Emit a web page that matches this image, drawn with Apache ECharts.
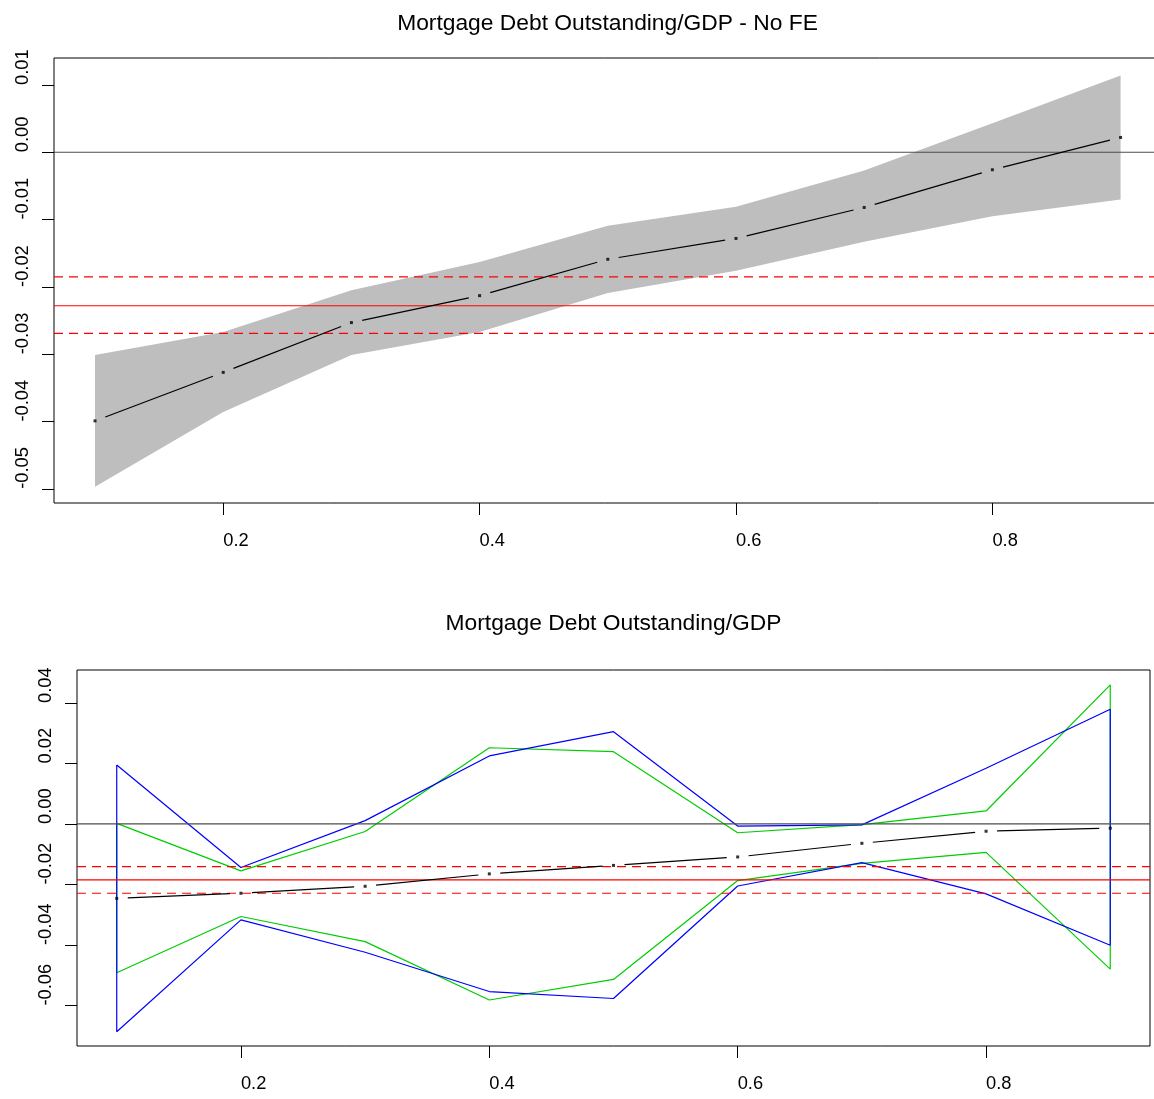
<!DOCTYPE html>
<html><head><meta charset="utf-8">
<script src="https://cdn.jsdelivr.net/npm/echarts@6/dist/echarts.min.js"></script>
<style>html,body{margin:0;padding:0;background:#fff}#c{width:1154px;height:1099px}</style>
</head><body><div id="c"></div>
<script>
// ---- data ----
const xs = [0.1, 0.2, 0.3, 0.4, 0.5, 0.6, 0.7, 0.8, 0.9];
const xTicks = [0.2, 0.4, 0.6, 0.8];

// top panel: "No FE"
const topEst   = [-0.0399, -0.0327, -0.0253, -0.0213, -0.0159, -0.0128, -0.0082, -0.0026, 0.0022];
const topUpper = [-0.0301, -0.0267, -0.0205, -0.0163, -0.0109, -0.0081, -0.0027, 0.0043, 0.0114];
const topLower = [-0.0497, -0.0386, -0.0301, -0.0267, -0.0209, -0.0176, -0.0133, -0.0095, -0.0070];
const topRef = [-0.0228, -0.0185, -0.0269]; // mean, upper, lower
const topYTicks = [-0.05, -0.04, -0.03, -0.02, -0.01, 0.00, 0.01];

// bottom panel
const botEst  = [-0.0246, -0.0229, -0.0206, -0.0165, -0.0137, -0.0109, -0.0064, -0.0024, -0.0014];
const blueUp  = [0.0195, -0.0144, 0.0011, 0.0225, 0.0305, -0.0007, -0.0003, 0.0184, 0.0379];
const blueLo  = [-0.0687, -0.0317, -0.0424, -0.0554, -0.0577, -0.0205, -0.0128, -0.0231, -0.0401];
const greenUp = [0.0002, -0.0155, -0.0025, 0.0252, 0.0239, -0.0029, -0.0002, 0.0043, 0.0460];
const greenLo = [-0.0492, -0.0306, -0.0389, -0.0582, -0.0514, -0.0187, -0.0130, -0.0094, -0.0480];
const botRef = [-0.0185, -0.0141, -0.0229];
const botYTicks = [-0.06, -0.04, -0.02, 0.00, 0.02, 0.04];

const titles = ['Mortgage Debt Outstanding/GDP - No FE', 'Mortgage Debt Outstanding/GDP'];

// ---- helpers ----
const FONT = "'Liberation Sans', Arial, sans-serif";
const X_MIN = 0.068, X_MAX = 0.932;
const chart = echarts.init(document.getElementById('c'), null, {renderer: 'canvas'});

function segs(x, y) { return x.slice(0, -1).map((v, i) => [v, y[i], x[i + 1], y[i + 1]]); }
function renderGap(params, api) {
  const a = api.coord([api.value(0), api.value(1)]);
  const b = api.coord([api.value(2), api.value(3)]);
  const dx = b[0] - a[0], dy = b[1] - a[1], L = Math.hypot(dx, dy), g = 11;
  const ux = dx / L, uy = dy / L;
  return {type: 'line', shape: {x1: a[0] + ux * g, y1: a[1] + uy * g, x2: b[0] - ux * g, y2: b[1] - uy * g},
          style: {stroke: '#000', lineWidth: 1.2}};
}
function renderBand(params, api) {
  const up = xs.map((x, i) => api.coord([x, topUpper[i]]));
  const lo = xs.map((x, i) => api.coord([x, topLower[i]])).reverse();
  return {type: 'polygon', shape: {points: up.concat(lo)}, style: {fill: '#BEBEBE'}};
}
function polygonData(x, up, lo) {
  const d = x.map((v, i) => [v, up[i]]);
  for (let i = x.length - 1; i >= 0; i--) d.push([x[i], lo[i]]);
  d.push([x[0], up[0]]);
  return d;
}
function hline(gi, v, color, type, z) {
  return {type: 'line', xAxisIndex: gi, yAxisIndex: gi, data: [[X_MIN, v], [X_MAX, v]], showSymbol: false,
    silent: true, z, lineStyle: {color, width: 1.2, type}};
}
function refLines(gi, ref, z) {
  return [
    hline(gi, 0, '#4d4d4d', 'solid', z),
    hline(gi, ref[0], '#FF0000', 'solid', z),
    hline(gi, ref[1], '#FF0000', [9, 6], z),
    hline(gi, ref[2], '#FF0000', [9, 6], z)
  ];
}
const tickFont = {fontFamily: FONT, fontSize: 18.3, color: '#000'};
function xAxisCfg(gi) {
  return {type: 'value', gridIndex: gi, min: X_MIN, max: X_MAX,
    axisLine: {show: false, onZero: false}, splitLine: {show: false},
    axisTick: {show: true, length: 12, lineStyle: {color: '#000', width: 1}, customValues: xTicks},
    axisLabel: Object.assign({customValues: xTicks, align: 'left', margin: 29, formatter: v => v.toFixed(1)}, tickFont)};
}
function yAxisCfg(gi, min, max, ticks) {
  return {type: 'value', gridIndex: gi, min, max,
    axisLine: {show: false, onZero: false}, splitLine: {show: false},
    axisTick: {show: true, length: 12, lineStyle: {color: '#000', width: 1}, customValues: ticks},
    axisLabel: Object.assign({customValues: ticks, rotate: 90, align: 'left', verticalAlign: 'bottom', margin: 22,
      formatter: v => v.toFixed(2)}, tickFont)};
}

const option = {
  animation: false,
  backgroundColor: '#fff',
  title: [
    {text: titles[0], left: 607.5, top: 12, textAlign: 'center', padding: 0,
     textStyle: {fontFamily: FONT, fontSize: 22.8, fontWeight: 'normal', color: '#000'}},
    {text: titles[1], left: 613.5, top: 612, textAlign: 'center', padding: 0,
     textStyle: {fontFamily: FONT, fontSize: 22.8, fontWeight: 'normal', color: '#000'}}
  ],
  grid: [
    {left: 54, top: 58, width: 1107.6, height: 445, outerBoundsMode: 'none', containLabel: false,
     show: true, borderColor: '#000', borderWidth: 1, backgroundColor: 'transparent'},
    {left: 77, top: 670, width: 1073, height: 376, outerBoundsMode: 'none', containLabel: false,
     show: true, borderColor: '#000', borderWidth: 1, backgroundColor: 'transparent'}
  ],
  xAxis: [xAxisCfg(0), xAxisCfg(1)],
  yAxis: [yAxisCfg(0, -0.0521, 0.0140, topYTicks), yAxisCfg(1, -0.0734, 0.0509, botYTicks)],
  series: [
    {type: 'custom', xAxisIndex: 0, yAxisIndex: 0, renderItem: renderBand, data: [[xs[0], topUpper[0]]], silent: true, z: 1},
    ...refLines(0, topRef, 2),
    {type: 'custom', xAxisIndex: 0, yAxisIndex: 0, renderItem: renderGap, data: segs(xs, topEst), silent: true, z: 3},
    {type: 'scatter', xAxisIndex: 0, yAxisIndex: 0, data: xs.map((x, i) => [x, topEst[i]]),
     symbol: 'rect', symbolSize: 3, itemStyle: {color: '#000'}, silent: true, z: 4},

    {type: 'line', xAxisIndex: 1, yAxisIndex: 1, data: polygonData(xs, greenUp, greenLo), showSymbol: false,
     lineStyle: {color: '#00CD00', width: 1.2}, silent: true, z: 1},
    {type: 'line', xAxisIndex: 1, yAxisIndex: 1, data: polygonData(xs, blueUp, blueLo), showSymbol: false,
     lineStyle: {color: '#0000FF', width: 1.2}, silent: true, z: 2},
    ...refLines(1, botRef, 3),
    {type: 'custom', xAxisIndex: 1, yAxisIndex: 1, renderItem: renderGap, data: segs(xs, botEst), silent: true, z: 4},
    {type: 'scatter', xAxisIndex: 1, yAxisIndex: 1, data: xs.map((x, i) => [x, botEst[i]]),
     symbol: 'rect', symbolSize: 3, itemStyle: {color: '#000'}, silent: true, z: 5}
  ]
};
chart.setOption(option);
</script>
</body></html>
